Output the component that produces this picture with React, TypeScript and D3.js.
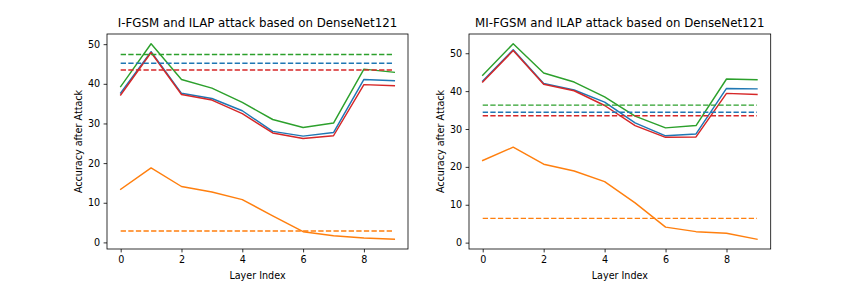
import { useEffect, useRef } from 'react';
import * as d3 from 'd3';

const layers = [0, 1, 2, 3, 4, 5, 6, 7, 8, 9];
const xTicks = [0, 2, 4, 6, 8];
const yTicks = [0, 10, 20, 30, 40, 50];

// I-FGSM panel
const iBlue = [37.7, 48.1, 37.6, 36.3, 33.2, 28.0, 26.8, 27.7, 41.1, 40.8];
const iOrange = [13.4, 18.8, 14.1, 12.7, 10.8, 6.7, 2.7, 1.7, 1.1, 0.8];
const iGreen = [39.3, 50.1, 41.1, 38.9, 35.3, 31.0, 29.0, 30.1, 43.7, 42.9];
const iRed = [37.2, 47.9, 37.3, 35.9, 32.5, 27.6, 26.2, 26.9, 39.8, 39.5];
const iBaseline = [45.2, 2.9, 47.4, 43.5];

// MI-FGSM panel
const mBlue = [42.7, 50.9, 42.0, 40.3, 37.1, 31.6, 28.2, 28.7, 40.7, 40.6];
const mOrange = [21.7, 25.2, 20.7, 18.9, 16.1, 10.5, 4.1, 2.9, 2.5, 0.9];
const mGreen = [44.2, 52.5, 44.8, 42.4, 38.5, 33.4, 30.3, 30.9, 43.2, 43.0];
const mRed = [42.4, 50.7, 41.8, 40.1, 36.2, 30.9, 27.8, 27.9, 39.4, 39.1];
const mBaseline = [34.4, 6.4, 36.3, 33.5];

const colors = ['#1f77b4', '#ff7f0e', '#2ca02c', '#d62728'];

const panels = [
  { title: 'I-FGSM and ILAP attack based on DenseNet121', series: [iBlue, iOrange, iGreen, iRed], base: iBaseline, left: 107, right: 408 },
  { title: 'MI-FGSM and ILAP attack based on DenseNet121', series: [mBlue, mOrange, mGreen, mRed], base: mBaseline, left: 469, right: 770.7 },
];

const top = 34;
const bottom = 249;
const font = '"DejaVu Sans", sans-serif';

const App = () => {
  const svgRef = useRef(null);

  useEffect(() => {
    document.body.style.margin = '0';
    const svg = d3.select(svgRef.current);
    svg.selectAll('*').remove();
    svg.append('rect').attr('width', 856).attr('height', 286).attr('fill', '#fff');

    panels.forEach((p) => {
      const all = p.series.flat().concat(p.base);
      const lo = d3.min(all);
      const hi = d3.max(all);
      const pad = (hi - lo) * 0.05;
      const x = d3.scaleLinear().domain([-0.45, 9.45]).range([p.left, p.right]);
      const y = d3.scaleLinear().domain([lo - pad, hi + pad]).range([bottom, top]);

      const g = svg.append('g');
      const line = d3.line().x((d, i) => x(layers[i])).y((d) => y(d));

      p.series.forEach((s, k) => {
        g.append('path')
          .attr('d', line(s))
          .attr('fill', 'none')
          .attr('stroke', colors[k])
          .attr('stroke-width', 1.45)
          .attr('stroke-linejoin', 'round')
          .attr('stroke-linecap', 'square');
      });
      p.base.forEach((b, k) => {
        g.append('line')
          .attr('x1', x(layers[0]))
          .attr('x2', x(layers[layers.length - 1]))
          .attr('y1', y(b))
          .attr('y2', y(b))
          .attr('stroke', colors[k])
          .attr('stroke-width', 1.45)
          .attr('stroke-dasharray', '5.3,2.3');
      });

      const xAxis = g.append('g')
        .attr('transform', `translate(0,${bottom})`)
        .call(d3.axisBottom(x).tickValues(xTicks).tickSize(3.4).tickPadding(3.4).tickSizeOuter(0));
      const yAxis = g.append('g')
        .attr('transform', `translate(${p.left},0)`)
        .call(d3.axisLeft(y).tickValues(yTicks).tickSize(3.4).tickPadding(3.4).tickSizeOuter(0));
      [xAxis, yAxis].forEach((a) => {
        a.select('.domain').remove();
        a.selectAll('line').attr('stroke', '#000').attr('stroke-width', 0.8);
        a.selectAll('text').attr('font-family', font).attr('font-size', 9.6).attr('fill', '#000');
      });

      g.append('rect')
        .attr('x', p.left)
        .attr('y', top)
        .attr('width', p.right - p.left)
        .attr('height', bottom - top)
        .attr('fill', 'none')
        .attr('stroke', '#000')
        .attr('stroke-width', 0.8);

      g.append('text')
        .attr('x', (p.left + p.right) / 2)
        .attr('y', 27)
        .attr('text-anchor', 'middle')
        .attr('font-family', font)
        .attr('font-size', 11.8)
        .text(p.title);

      g.append('text')
        .attr('x', (p.left + p.right) / 2)
        .attr('y', 279)
        .attr('text-anchor', 'middle')
        .attr('font-family', font)
        .attr('font-size', 9.6)
        .text('Layer Index');

      g.append('text')
        .attr('transform', `translate(${p.left - 25.5},${(top + bottom) / 2}) rotate(-90)`)
        .attr('text-anchor', 'middle')
        .attr('font-family', font)
        .attr('font-size', 9.6)
        .text('Accuracy after Attack');
    });
  }, []);

  return <svg ref={svgRef} width={856} height={286} style={{ display: 'block' }} />;
};

export default App;
